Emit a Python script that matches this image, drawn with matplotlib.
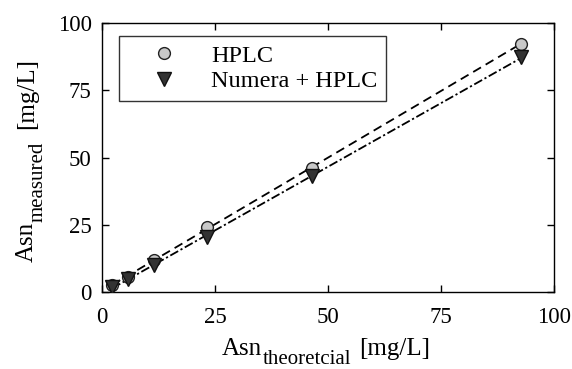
import matplotlib.pyplot as plt
import numpy as np

plt.rcParams['font.family'] = ['Liberation Serif', 'DejaVu Serif']

x_theo = [2.3, 5.8, 11.6, 23.2, 46.4, 92.8]
hplc = [2.6, 5.7, 11.9, 24.2, 46.2, 92.3]
numera = [2.0, 5.0, 10.0, 20.5, 43.0, 87.3]

fig = plt.figure(figsize=(5.72, 3.69), dpi=100)
ax = fig.add_axes([102 / 572, 1 - 292 / 369, 452 / 572, 269 / 369])

xs = np.array(x_theo)
p1 = np.polyfit(xs, hplc, 1)
p2 = np.polyfit(xs, numera, 1)
xl = np.array([xs.min(), xs.max()])
ax.plot(xl, np.polyval(p1, xl), color='black', ls=(0, (5, 3)), lw=1.3, zorder=2)
ax.plot(xl, np.polyval(p2, xl), color='black', ls=(0, (5, 1.5, 1.2, 1.5)), lw=1.3, zorder=2)

ax.plot(x_theo, hplc, 'o', ms=8.5, mfc='#c8c8c8', mec='#222222', mew=1.0,
        ls='none', label='HPLC', zorder=3)
ax.plot(x_theo, numera, 'v', ms=9.5, mfc='#333333', mec='#111111', mew=1.0,
        ls='none', label='Numera + HPLC', zorder=4)

ax.set_xlim(0, 100)
ax.set_ylim(0, 100)
ax.set_xticks([0, 25, 50, 75, 100])
ax.set_yticks([0, 25, 50, 75, 100])
ax.tick_params(direction='in', top=True, right=True, labelsize=16.5, length=5, width=1)
ax.tick_params(axis='x', pad=10.5)
ax.tick_params(axis='y', pad=7.5)
for s in ax.spines.values():
    s.set_linewidth(1.0)

# x label built from pieces so the subscript can be sized like the original
lab_fs, sub_fs = 18, 15
t1 = ax.annotate('Asn', xy=(0.265, 0), xycoords='axes fraction',
                 xytext=(0, -45.4), textcoords='offset points',
                 fontsize=lab_fs, ha='left', va='baseline')
t2 = ax.annotate('theoretcial', xy=(1, 0), xycoords=(t1, 'axes fraction'),
                 xytext=(0.5, -51.8), textcoords='offset points',
                 fontsize=sub_fs, ha='left', va='baseline')
ax.annotate('[mg/L]', xy=(1, 0), xycoords=(t2, 'axes fraction'),
            xytext=(6, -45.4), textcoords='offset points',
            fontsize=lab_fs, ha='left', va='baseline')

# y label, rotated
u1 = ax.annotate('Asn', xy=(0, 0.11), xycoords='axes fraction',
                 xytext=(-49.7, 0), textcoords='offset points',
                 fontsize=lab_fs, rotation=90, rotation_mode='anchor',
                 ha='left', va='baseline')
u2 = ax.annotate('measured', xy=(0, 1), xycoords=('axes fraction', u1),
                 xytext=(-42.5, 0.5), textcoords='offset points',
                 fontsize=sub_fs, rotation=90, rotation_mode='anchor',
                 ha='left', va='baseline')
ax.annotate('[mg/L]', xy=(0, 1), xycoords=('axes fraction', u2),
            xytext=(-49.7, 8.5), textcoords='offset points',
            fontsize=lab_fs, rotation=90, rotation_mode='anchor',
            ha='left', va='baseline')

leg = ax.legend(loc='upper left', fontsize=17.5, frameon=True, fancybox=False,
                edgecolor='black', borderpad=0.35, handlelength=3.0,
                handletextpad=0.45, labelspacing=0.15, borderaxespad=0,
                bbox_to_anchor=(17 / 452, 1 - 13 / 269))
leg.get_frame().set_linewidth(1.0)

fig.savefig('out.png', dpi=100)
